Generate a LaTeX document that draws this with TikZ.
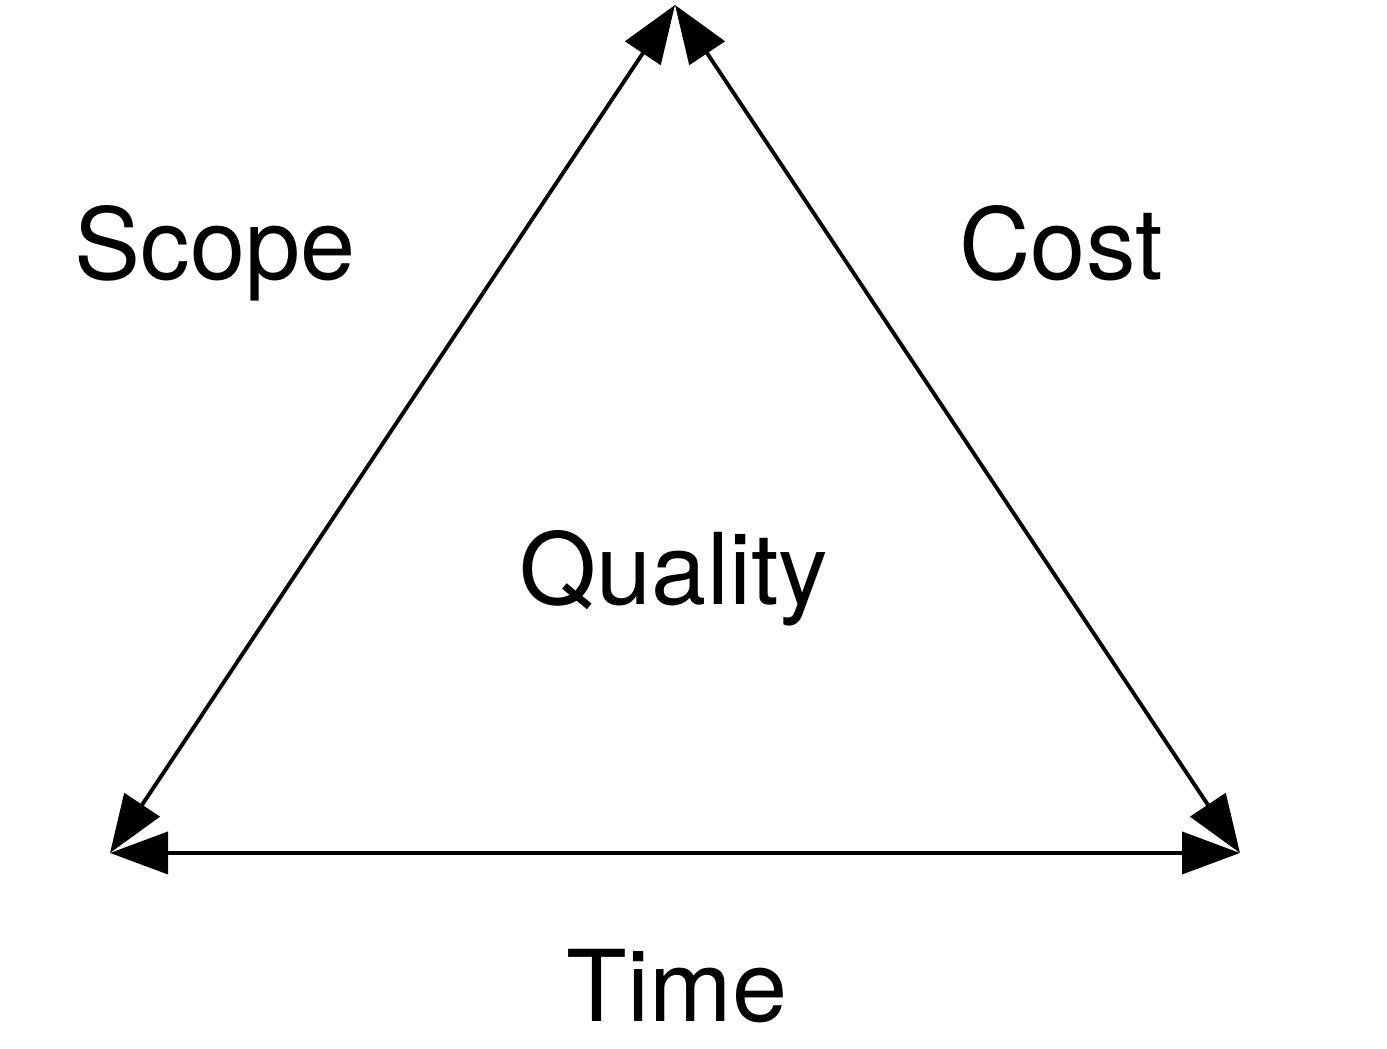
\documentclass[tikz,border=0pt]{standalone}
\usepackage{fontspec}
\setmainfont{TeX Gyre Heros}
\usetikzlibrary{arrows.meta}

\begin{document}
\begin{tikzpicture}
[every node/.style={font=\fontsize{28.2}{34}\selectfont,anchor=base,inner sep=0pt},
 side/.style={line width=1.1pt,{Triangle[length=5.8mm,width=4.2mm]}-{Triangle[length=5.8mm,width=4.2mm]}}]
\useasboundingbox (0,0) rectangle (13.87,10.49);
\coordinate (top) at (6.75,10.44);
\coordinate (left) at (1.10,1.96);
\coordinate (right) at (12.40,1.96);
\node (scope) at (2.15,7.69) {Scope};
\node (cost) at (10.61,7.69) {Cost};
\node (quality) at (6.74,4.44) {Quality};
\node (time) at (6.77,0.27) {Time};
\foreach \from/\to in {left/top,top/right,left/right}
\draw[side] (\from) -- (\to);
\end{tikzpicture}
\end{document}
